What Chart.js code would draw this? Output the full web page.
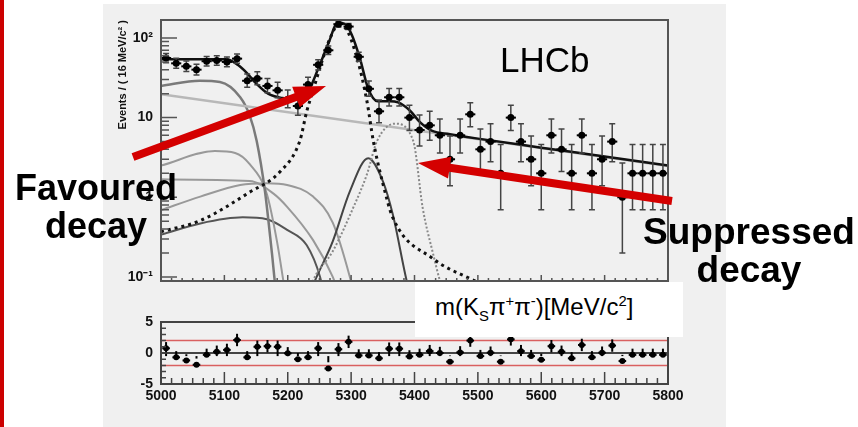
<!DOCTYPE html>
<html>
<head>
<meta charset="utf-8">
<script src="https://cdn.jsdelivr.net/npm/chart.js@4.4.1/dist/chart.umd.min.js"></script>
<style>
  body { margin: 0; width: 858px; height: 427px; background: #fff; position: relative; overflow: hidden;
         font-family: "Liberation Sans", Arial, sans-serif; }
  #redbar { position: absolute; left: 0; top: 0; width: 4px; height: 427px; background: #cc0000; }
  #panel { position: absolute; left: 103px; top: 4px; width: 623px; height: 423px; background: #f0f0f0; }
  canvas { position: absolute; left: 0; }
  #mainChart { top: 0; }
  #pullChart { top: 300px; }
  .note { position: absolute; color: #000; font-weight: bold; font-size: 36px; line-height: 38px; text-align: center; }
  #lhcb { position: absolute; left: 500px; top: 42px; font-size: 35px; line-height: 35px; color: #000; }
  #xtitle { position: absolute; left: 415px; top: 282px; width: 268px; height: 55px; background: #fff;
            font-size: 24px; line-height: 24px; }
  #xtitle span.t { position: absolute; left: 20px; top: 13px; white-space: nowrap; }
  sub, sup { font-size: 62%; line-height: 0; }
</style>
</head>
<body>
<div id="redbar"></div>
<div id="panel"></div>
<canvas id="mainChart" width="858" height="300"></canvas>
<canvas id="pullChart" width="858" height="127"></canvas>
<div id="lhcb">LHCb</div>
<div class="note" style="left:0px; top:169px; width:192px;">Favoured<br>decay</div>
<div class="note" style="left:638px; top:213px; width:222px; font-size:37px;">Suppressed<br>decay</div>
<div id="xtitle"><span class="t">m(K<sub>S</sub>π<sup>+</sup>π<sup>-</sup>)[MeV/c<sup>2</sup>]</span></div>

<script>
// bin centres (16 MeV bins)
const binCentres = [5008, 5024, 5040, 5056, 5072, 5088, 5104, 5120, 5136, 5152,
                    5168, 5184, 5200, 5216, 5232, 5248, 5264, 5280, 5296, 5312,
                    5328, 5344, 5360, 5376, 5392, 5408, 5424, 5440, 5456, 5472,
                    5488, 5504, 5520, 5536, 5552, 5568, 5584, 5600, 5616, 5632,
                    5648, 5664, 5680, 5696, 5712, 5728, 5744, 5760, 5776, 5792];

// events per bin
const counts = [56, 48, 44, 40, 51, 52, 50, 55, 29, 31,
                25, 22, 17, 14, 26, 46, 70, 149, 139, 58,
                23, 12, 18, 18, 10, 7, 8, 6, 3, 6,
                11, 4, 5, 2, 10, 5, 3, 2, 6, 4,
                2, 6, 2, 3, 5, 1, 2, 2, 2, 2];
// asymmetric (poisson) errors
const errDown = [7.0, 6.4, 6.1, 5.8, 6.6, 6.7, 6.6, 6.9, 5.0, 5.1,
                 4.5, 4.3, 3.7, 3.3, 4.6, 6.3, 8.1, 12.0, 11.5, 7.1,
                 4.4, 3.4, 4.0, 4.0, 3.1, 2.6, 2.8, 2.4, 1.6, 2.4,
                 3.3, 1.9, 2.2, 1.3, 3.1, 2.2, 1.6, 1.3, 2.4, 1.9,
                 1.3, 2.4, 1.3, 1.6, 2.2, 0.8, 1.3, 1.3, 1.3, 1.3];
const errUp = [8.0, 7.5, 7.2, 6.9, 7.7, 7.8, 7.6, 8.0, 6.4, 6.6,
               6.0, 5.8, 5.2, 4.8, 6.1, 7.3, 9.1, 13.0, 12.5, 8.1,
               5.9, 4.6, 5.2, 5.2, 4.3, 3.8, 4.0, 3.6, 2.9, 3.6,
               4.4, 3.2, 3.4, 2.6, 4.3, 3.4, 2.9, 2.6, 3.6, 3.2,
               2.6, 3.6, 2.6, 2.9, 3.4, 1.7, 2.6, 2.6, 2.6, 2.6];

// pulls
const pulls = [0.76, -0.7, -1.2, -1.9, -0.3, 0.2, 0.5, 2.1, -0.7, 1.0,
               1.1, 1.0, -0.05, -1.0, -0.7, 0.76, -2.5, 0.6, 1.8, -0.4,
               -0.4, -0.86, 0.7, 0.7, -0.55, -0.3, 0.3, 0.0, -1.4, 0.1,
               2.0, -0.5, 0.05, -1.4, 2.2, 0.3, -0.5, -1.1, 1.1, 0.2,
               -0.86, 1.3, -0.7, 0.05, 1.2, -1.3, -0.3, -0.3, -0.3, -0.3];

// fit components (mass, events)
const totalMass = [5000, 5050, 5104, 5121, 5136, 5148, 5169, 5191, 5211, 5224, 5232, 5248, 5264, 5279, 5290,
                   5301, 5314, 5327, 5342, 5361, 5374, 5393, 5409, 5428, 5456, 5500, 5600, 5700, 5800];
const totalVal = [54, 54, 54, 46, 36, 28, 20, 17.6, 17.2, 18.5, 21, 41, 85, 155, 150,
                  110, 55, 23, 16, 16, 15.5, 12.2, 8.7, 6.8, 6.2, 5.45, 4.2, 3.25, 2.5];

const combMass = [5000, 5800];
const combVal = [19.6, 2.47];

const favMass = [5000, 5062, 5140, 5188, 5219, 5230, 5240, 5256, 5267, 5279, 5290, 5309, 5325, 5335,
                 5350, 5366, 5429, 5488, 5567, 5650];
const favVal = [0.37, 0.51, 1.16, 2.1, 5.1, 12, 22, 57, 100, 143, 135, 57, 16, 5.1,
                1.5, 0.55, 0.17, 0.095, 0.05, 0.03];

const supMass = [5230, 5240, 5271, 5303, 5325, 5341, 5369, 5398, 5413, 5429, 5440, 5450];
const supVal = [0.05, 0.09, 0.21, 0.73, 1.95, 5.1, 8.4, 5.1, 0.73, 0.2, 0.09, 0.05];

const bsBkgMass = [5230, 5243, 5271, 5298, 5327, 5350, 5366, 5388, 5400];
const bsBkgVal = [0.05, 0.09, 0.28, 1.19, 3.1, 1.6, 0.6, 0.087, 0.04];

const partAMass = [5000, 5061, 5093, 5125, 5140, 5151, 5164, 5175, 5181, 5190];
const partAVal = [25, 29, 28, 18, 10.6, 5.1, 1.2, 0.2, 0.07, 0.03];

const partBMass = [5000, 5085, 5117, 5140, 5167, 5183, 5193, 5200];
const partBVal = [2.5, 3.8, 3.6, 2.6, 1.1, 0.28, 0.09, 0.04];

const partCMass = [5000, 5140, 5177, 5199, 5240, 5271, 5285];
const partCVal = [1.68, 1.6, 1.12, 0.76, 0.29, 0.1, 0.05];

const partDMass = [5000, 5062, 5125, 5167, 5199, 5240, 5271, 5298, 5310];
const partDVal = [0.69, 1.02, 1.43, 1.5, 1.43, 1.02, 0.48, 0.1, 0.04];

const partEMass = [5000, 5062, 5129, 5167, 5199, 5230, 5251, 5262];
const partEVal = [0.34, 0.47, 0.56, 0.53, 0.39, 0.25, 0.1, 0.04];

const yTickLabels = { 0.1: '10\u207B\u00B9', 1: '1', 10: '10', 100: '10\u00B2' };

const FONT = '"Liberation Sans", Arial, sans-serif';

function zip(ms, vs) {
    return ms.map((m, i) => ({ x: m, y: vs[i] }));
}

function curve(ms, vs, color, width, dash) {
    return {
        type: 'line',
        data: zip(ms, vs),
        borderColor: color,
        borderWidth: width,
        borderDash: dash || [],
        pointRadius: 0,
        cubicInterpolationMode: 'monotone',
        fill: false
    };
}

// frame + inward ticks like ROOT
const frameTicks = {
    id: 'frameTicks',
    afterDatasetsDraw(chart, args, o) {
        const { ctx, chartArea: a, scales: { x, y } } = chart;
        ctx.save();
        ctx.strokeStyle = o.color;
        ctx.lineWidth = 1.5;
        ctx.beginPath();
        for (let k = 0; k <= 48; k++) {
            const px = x.getPixelForValue(5000 + k * 100 / 6);
            const len = (k % 6 === 0) ? o.xMajor : o.xMinor;
            ctx.moveTo(px, a.bottom);
            ctx.lineTo(px, a.bottom - len);
        }
        if (o.log) {
            [0.1, 1, 10, 100].forEach(d => {
                for (let j = 1; j <= 9; j++) {
                    const v = d * j;
                    if (v < y.min || v > y.max) continue;
                    const py = y.getPixelForValue(v);
                    ctx.moveTo(a.left, py);
                    ctx.lineTo(a.left + (j === 1 ? o.yMajor : o.yMinor), py);
                }
            });
        } else {
            for (let v = -5; v <= 5; v++) {
                const py = y.getPixelForValue(v);
                ctx.moveTo(a.left, py);
                ctx.lineTo(a.left + (v % 5 === 0 ? o.yMajor : o.yMinor), py);
            }
        }
        ctx.stroke();
        ctx.lineWidth = 2;
        ctx.strokeRect(a.left, a.top, a.width, a.height);
        ctx.restore();
    }
};

// error bars under the markers of dataset 0
const errorBars = {
    id: 'errorBars',
    beforeDatasetDraw(chart, args, o) {
        if (args.index !== 0) return;
        const { ctx, chartArea: a, scales: { x, y } } = chart;
        ctx.save();
        ctx.beginPath();
        ctx.rect(a.left, a.top, a.width, a.height);
        ctx.clip();
        binCentres.forEach((m, i) => {
            const v = o.values[i];
            const px = x.getPixelForValue(m);
            const py = y.getPixelForValue(v);
            const lo = y.getPixelForValue(v - o.down[i] > 0 ? v - o.down[i] : y.min / 10);
            const hi = y.getPixelForValue(v + o.up[i]);
            ctx.strokeStyle = o.vColor;
            ctx.lineWidth = o.vWidth;
            ctx.beginPath();
            ctx.moveTo(px, lo); ctx.lineTo(px, hi);
            if (o.cap) {
                ctx.moveTo(px - o.cap, lo); ctx.lineTo(px + o.cap, lo);
                ctx.moveTo(px - o.cap, hi); ctx.lineTo(px + o.cap, hi);
            }
            ctx.stroke();
            ctx.strokeStyle = '#000';
            ctx.lineWidth = 2;
            ctx.beginPath();
            ctx.moveTo(x.getPixelForValue(m - o.halfBin), py);
            ctx.lineTo(x.getPixelForValue(m + o.halfBin), py);
            ctx.stroke();
        });
        ctx.restore();
    }
};

// red annotation arrows
const arrows = {
    id: 'arrows',
    afterDraw(chart, args, o) {
        const ctx = chart.ctx;
        ctx.save();
        ctx.fillStyle = o.color;
        o.list.forEach(([x0, y0, x1, y1]) => {
            const dx = x1 - x0, dy = y1 - y0, len = Math.hypot(dx, dy);
            const ux = dx / len, uy = dy / len, nx = -uy, ny = ux;
            const bx = x1 - ux * o.head, by = y1 - uy * o.head;
            ctx.beginPath();
            ctx.moveTo(x0 + nx * o.shaft, y0 + ny * o.shaft);
            ctx.lineTo(bx + nx * o.shaft, by + ny * o.shaft);
            ctx.lineTo(bx + nx * o.half, by + ny * o.half);
            ctx.lineTo(x1, y1);
            ctx.lineTo(bx - nx * o.half, by - ny * o.half);
            ctx.lineTo(bx - nx * o.shaft, by - ny * o.shaft);
            ctx.lineTo(x0 - nx * o.shaft, y0 - ny * o.shaft);
            ctx.closePath();
            ctx.fill();
        });
        ctx.restore();
    }
};

new Chart(document.getElementById('mainChart'), {
    type: 'scatter',
    data: {
        datasets: [
            { data: zip(binCentres, counts), pointRadius: 3.5, pointBackgroundColor: '#000',
              pointBorderColor: '#000', pointBorderWidth: 0, clip: false },
            curve(totalMass, totalVal, '#111', 2.5),
            curve(favMass, favVal, '#111', 3, [3, 4]),
            curve(supMass, supVal, '#888', 2, [2, 2]),
            curve(bsBkgMass, bsBkgVal, '#444', 2),
            curve(combMass, combVal, '#b8b8b8', 2.5),
            curve(partAMass, partAVal, '#7a7a7a', 2.5),
            curve(partBMass, partBVal, '#999', 2),
            curve(partCMass, partCVal, '#999', 2),
            curve(partDMass, partDVal, '#999', 2),
            curve(partEMass, partEVal, '#555', 2)
        ]
    },
    options: {
        responsive: false,
        animation: false,
        layout: { padding: { left: 112, right: 190, top: 20, bottom: 19 } },
        plugins: {
            legend: { display: false },
            tooltip: { enabled: false },
            frameTicks: { color: '#555', xMajor: 6, xMinor: 3, yMajor: 16, yMinor: 8, log: true },
            errorBars: { values: counts, down: errDown, up: errUp, vColor: '#444', vWidth: 1.5, cap: 3, halfBin: 8 },
            arrows: { color: '#d40000', head: 32, half: 11, shaft: 4,
                      list: [[133, 157, 326, 86], [672, 201, 418, 163]] }
        },
        scales: {
            x: { type: 'linear', min: 5000, max: 5800, display: false },
            y: {
                type: 'logarithmic', min: 0.089, max: 168,
                afterFit: s => { s.width = 49; },
                afterBuildTicks: s => { s.ticks = [0.1, 1, 10, 100].map(v => ({ value: v })); },
                grid: { display: false, drawTicks: false },
                border: { display: false },
                ticks: {
                    callback: v => yTickLabels[v] || '',
                    font: { family: FONT, size: 14, weight: 'bold' },
                    color: '#111',
                    padding: 8
                },
                title: {
                    display: true, text: 'Events / ( 16 MeV/c\u00B2 )', align: 'end',
                    font: { family: FONT, size: 11, weight: 'bold' }, color: '#111',
                    padding: { top: 4, bottom: 0 }
                }
            }
        }
    },
    plugins: [frameTicks, errorBars, arrows]
});

new Chart(document.getElementById('pullChart'), {
    type: 'scatter',
    data: {
        datasets: [
            { data: zip(binCentres, pulls), pointRadius: 3, pointBackgroundColor: '#000',
              pointBorderColor: '#000', pointBorderWidth: 0 },
            { type: 'line', data: [{ x: 5000, y: 0 }, { x: 5800, y: 0 }], borderColor: '#444', borderWidth: 2, pointRadius: 0 },
            { type: 'line', data: [{ x: 5000, y: 2 }, { x: 5800, y: 2 }], borderColor: '#d96060', borderWidth: 1.5, pointRadius: 0 },
            { type: 'line', data: [{ x: 5000, y: -2 }, { x: 5800, y: -2 }], borderColor: '#d96060', borderWidth: 1.5, pointRadius: 0 }
        ]
    },
    options: {
        responsive: false,
        animation: false,
        layout: { padding: { left: 112, right: 190, top: 22, bottom: 13 } },
        plugins: {
            legend: { display: false },
            tooltip: { enabled: false },
            frameTicks: { color: '#444', xMajor: 12, xMinor: 6, yMajor: 8, yMinor: 5, log: false },
            errorBars: { values: pulls, down: pulls.map(() => 1), up: pulls.map(() => 1),
                         vColor: '#000', vWidth: 2, cap: 0, halfBin: 6 }
        },
        scales: {
            x: {
                type: 'linear', min: 5000, max: 5800,
                afterFit: s => { s.height = 30; },
                grid: { display: false, drawTicks: false },
                border: { display: false },
                ticks: {
                    stepSize: 100, autoSkip: false, maxRotation: 0,
                    callback: v => String(v),
                    font: { family: FONT, size: 14, weight: 'bold' },
                    color: '#111', padding: 4
                }
            },
            y: {
                type: 'linear', min: -5, max: 5,
                afterFit: s => { s.width = 49; },
                grid: { display: false, drawTicks: false },
                border: { display: false },
                ticks: {
                    stepSize: 5,
                    font: { family: FONT, size: 14, weight: 'bold' },
                    color: '#111', padding: 8
                }
            }
        }
    },
    plugins: [frameTicks, errorBars]
});
</script>
</body>
</html>
